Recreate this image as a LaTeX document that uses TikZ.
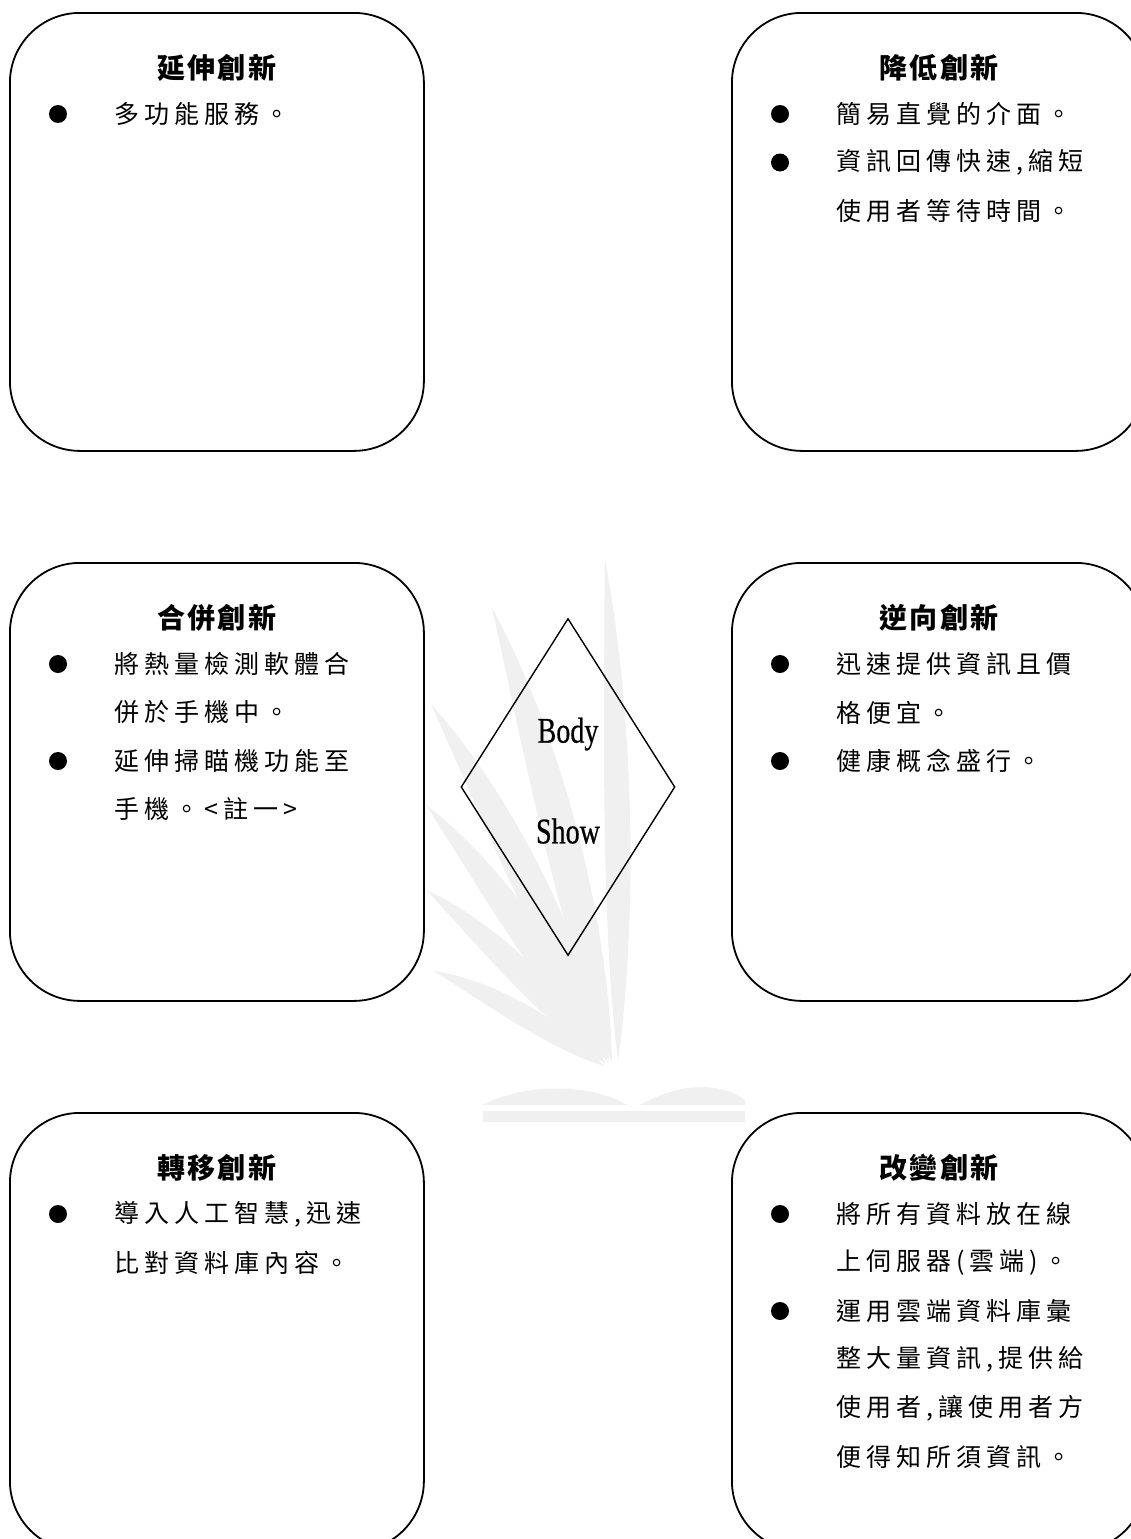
\documentclass[tikz,border=0pt]{standalone}
\usepackage{fontspec}
\setmainfont{Liberation Serif}
\newfontfamily\lblf[FakeBold=0.7]{Liberation Serif}
\newfontfamily\cjk[LetterSpace=20]{Noto Sans CJK TC}
\newfontfamily\cjkt[LetterSpace=8]{Noto Sans CJK TC}
\usetikzlibrary{shapes.geometric}
\tikzset{
 box/.style={draw, line width=1.8pt, rounded corners=70pt, minimum width=414pt, minimum height=438pt, inner sep=0pt, anchor=north west},
 ttl/.style={font=\cjkt\bfseries\fontsize{28pt}{32pt}\selectfont, inner sep=0pt},
 txt/.style={font=\cjk\fontsize{25pt}{30pt}\selectfont, inner sep=0pt, anchor=west},
 dot/.style={circle, fill, inner sep=0pt, minimum size=18pt},
 wm/.style={fill=black!6},
 lbl/.style={font=\lblf\fontsize{36pt}{40pt}\selectfont, inner sep=0pt},
 dia/.style={draw, line width=1.4pt, diamond, minimum width=214pt, minimum height=337pt, inner sep=0pt},
}
% bullet line: box, y offset, name, text
\newcommand\bl[4]{\path (#1.north west) ++(49,#2) node[dot] (#3d) {} ++(56,0) node[txt] (#3) {#4};}
% continuation line: box, y offset, name, text
\newcommand\cl[4]{\path (#1.north west) ++(105,#2) node[txt] (#3) {#4};}
% watermark leaf: base x, base y, angle, length, width (curved blade)
\newcommand\leaf[5]{\fill[wm, shift={(#1,#2)}, rotate=#3] (0,0) .. controls (0.3*#4,1.1*#5) and (0.7*#4,1.3*#5) .. (#4,0.5*#5) .. controls (0.7*#4,0.2*#5) and (0.3*#4,-0.4*#5) .. (0,0);}
\begin{document}
\begin{tikzpicture}[x=1pt,y=-1pt]
\useasboundingbox (0,0) rectangle (1131,1539);
\clip (0,0) rectangle (1131,1539);
% watermark
\leaf{618}{1062}{93}{505}{26}
\leaf{612}{1062}{107}{470}{36}
\leaf{610}{1062}{119}{400}{34}
\leaf{608}{1062}{128}{315}{30}
\leaf{606}{1064}{139}{250}{27}
\leaf{604}{1066}{154}{195}{22}
\fill[wm] (483,1105) .. controls (520,1084) and (590,1082) .. (627,1105) -- cycle;
\fill[wm] (640,1105) .. controls (680,1082) and (722,1082) .. (745,1100) -- (745,1105) -- cycle;
\fill[wm] (483,1111) rectangle (745,1122);
% boxes
\node[box] (A) at (9,12) {};
\node[box] (B) at (731,12) {};
\node[box] (C) at (9,562) {};
\node[box] (D) at (731,562) {};
\node[box] (E) at (9,1112) {};
\node[box] (F) at (731,1112) {};
% titles
\path (A.north) ++(0,56) node[ttl] (At) {延伸創新};
\path (B.north) ++(0,56) node[ttl] (Bt) {降低創新};
\path (C.north) ++(0,56) node[ttl] (Ct) {合併創新};
\path (D.north) ++(0,56) node[ttl] (Dt) {逆向創新};
\path (E.north) ++(0,56) node[ttl] (Et) {轉移創新};
\path (F.north) ++(0,56) node[ttl] (Ft) {改變創新};
% texts
\bl{A}{102}{a1}{多功能服務。}
\bl{B}{102}{b1}{簡易直覺的介面。}
\bl{B}{150.5}{b2}{資訊回傳快速,縮短}
\cl{B}{199}{b3}{使用者等待時間。}
\bl{C}{102}{c1}{將熱量檢測軟體合}
\cl{C}{150.5}{c2}{併於手機中。}
\bl{C}{199}{c3}{延伸掃瞄機功能至}
\cl{C}{247.5}{c4}{手機。<註一>}
\bl{D}{102}{d1}{迅速提供資訊且價}
\cl{D}{150.5}{d2}{格便宜。}
\bl{D}{199}{d3}{健康概念盛行。}
\bl{E}{102}{e1}{導入人工智慧,迅速}
\cl{E}{150.5}{e2}{比對資料庫內容。}
\bl{F}{102}{f1}{將所有資料放在線}
\cl{F}{150.5}{f2}{上伺服器(雲端)。}
\bl{F}{199}{f3}{運用雲端資料庫彙}
\cl{F}{247.5}{f4}{整大量資訊,提供給}
\cl{F}{296}{f5}{使用者,讓使用者方}
\cl{F}{344.5}{f6}{便得知所須資訊。}
% centre diamond
\node[dia] (M) at (568,787) {};
\node[lbl] (body) at (568,734) {\scalebox{0.78}[1]{Body}};
\node[lbl] (show) at (568,831) {\scalebox{0.78}[1]{Show}};
\end{tikzpicture}
\end{document}
